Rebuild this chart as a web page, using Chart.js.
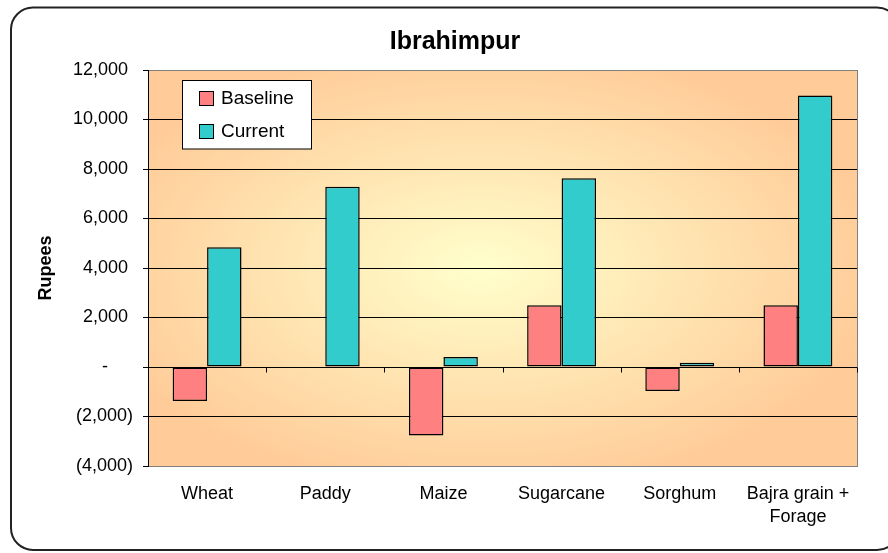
<!DOCTYPE html>
<html>
<head>
<meta charset="utf-8">
<script src="https://cdn.jsdelivr.net/npm/chart.js@4.4.1/dist/chart.umd.min.js"></script>
<style>
  html, body { margin: 0; padding: 0; background: #ffffff; }
  #wrap { position: relative; width: 888px; height: 553px; }
</style>
</head>
<body>
<div id="wrap"><canvas id="c" width="888" height="553"></canvas></div>
<script>
// ---- data ----
const chartTitle = 'Ibrahimpur';
const yAxisTitle = 'Rupees';
const categories = ['Wheat', 'Paddy', 'Maize', 'Sugarcane', 'Sorghum', ['Bajra grain +', 'Forage']];
const seriesNames = ['Baseline', 'Current'];
const baselineValues = [-1370, 0, -2770, 2490, -970, 2490];
const currentValues = [4840, 7280, 400, 7630, 170, 10970];
const yMin = -4000;
const yMax = 12000;
const yStep = 2000;

const FONT = '"Liberation Sans", Arial, sans-serif';

function fmtAccounting(v) {
  if (v === 0) return '-\u2007\u2007 ';
  const s = Math.abs(v).toLocaleString('en-US');
  return v < 0 ? '(' + s + ')' : s + ' ';
}

const decorPlugin = {
  id: 'decor',
  beforeDraw(chart) {
    const ctx = chart.ctx;
    const a = chart.chartArea;
    ctx.save();
    ctx.fillStyle = '#ffffff';
    ctx.fillRect(0, 0, chart.width, chart.height);
    // rounded outer frame
    ctx.strokeStyle = '#222222';
    ctx.lineWidth = 2;
    ctx.beginPath();
    ctx.roundRect(11, 7.5, 888, 542.5, 22);
    ctx.stroke();
    // plot area gradient (from centre)
    const cx = a.left + (a.right - a.left) * 0.47;
    const cy = a.top + (a.bottom - a.top) * 0.5;
    const rx = (a.right - a.left) * 0.56;
    const ry = (a.bottom - a.top) * 0.56;
    ctx.save();
    ctx.translate(cx, cy);
    ctx.scale(1, ry / rx);
    const g = ctx.createRadialGradient(0, 0, 0, 0, 0, rx);
    g.addColorStop(0, '#FFFFCC');
    g.addColorStop(1, '#FFCC99');
    ctx.fillStyle = g;
    ctx.fillRect(a.left - cx, (a.top - cy) * rx / ry, a.right - a.left, (a.bottom - a.top) * rx / ry);
    ctx.restore();
    // title
    ctx.fillStyle = '#000';
    ctx.font = 'bold 25px ' + FONT;
    ctx.textAlign = 'center';
    ctx.textBaseline = 'alphabetic';
    ctx.fillText(chartTitle, 455, 49);
    ctx.restore();
  },
  beforeDatasetsDraw(chart) {
    const ctx = chart.ctx;
    const a = chart.chartArea;
    const xs = chart.scales.x;
    const ys = chart.scales.y;
    ctx.save();
    ctx.strokeStyle = '#808080';
    ctx.lineWidth = 1;
    ctx.beginPath();
    ctx.moveTo(Math.round(a.right) + 0.5, a.top);
    ctx.lineTo(Math.round(a.right) + 0.5, a.bottom);
    ctx.stroke();
    // category tick marks on the zero line
    const y0 = Math.round(ys.getPixelForValue(0)) + 0.5;
    ctx.strokeStyle = '#000';
    ctx.beginPath();
    for (let i = 0; i < categories.length; i++) {
      const px = Math.round(xs.getPixelForValue(i + 0.5)) + 0.5;
      ctx.moveTo(px, y0);
      ctx.lineTo(px, y0 + 5);
    }
    ctx.stroke();
    ctx.restore();
  },
  afterDraw(chart) {
    const ctx = chart.ctx;
    ctx.save();
    ctx.fillStyle = '#ffffff';
    ctx.fillRect(182.5, 80.5, 129, 68.5);
    ctx.strokeStyle = '#000';
    ctx.lineWidth = 1;
    ctx.strokeRect(182.5, 80.5, 129, 68.5);
    ctx.font = '19px ' + FONT;
    ctx.textAlign = 'left';
    ctx.textBaseline = 'alphabetic';
    const rows = [91.5, 124.5];
    chart.data.datasets.forEach((ds, i) => {
      const y = rows[i];
      ctx.fillStyle = ds.backgroundColor;
      ctx.fillRect(199.5, y, 14, 14);
      ctx.strokeStyle = '#000';
      ctx.strokeRect(199.5, y, 14, 14);
      ctx.fillStyle = '#000';
      ctx.fillText(ds.label, 221, y + 12.5);
    });
    ctx.restore();
  }
};

new Chart(document.getElementById('c'), {
  type: 'bar',
  data: {
    labels: categories,
    datasets: [
      { label: seriesNames[0], data: baselineValues, backgroundColor: '#FF8080', borderColor: '#000', borderWidth: 1.5, borderSkipped: false },
      { label: seriesNames[1], data: currentValues, backgroundColor: '#33CCCC', borderColor: '#000', borderWidth: 1.5, borderSkipped: false }
    ]
  },
  options: {
    responsive: false,
    maintainAspectRatio: false,
    animation: false,
    devicePixelRatio: 1,
    layout: { padding: { left: 24, right: 31, top: 70, bottom: 0 } },
    plugins: {
      legend: { display: false },
      title: { display: false },
      tooltip: { enabled: false }
    },
    datasets: { bar: { categoryPercentage: 0.583, barPercentage: 1.0 } },
    scales: {
      x: {
        type: 'category',
        offset: true,
        grid: { display: false, drawTicks: false },
        border: { display: true, color: '#808080', width: 1 },
        ticks: {
          color: '#000',
          font: { family: FONT, size: 18, lineHeight: 1.3 },
          padding: 16,
          maxRotation: 0,
          autoSkip: false
        },
        afterFit(s) { s.height = 87; }
      },
      y: {
        min: yMin,
        max: yMax,
        grid: {
          color: (c) => (c.tick && (c.tick.value === yMax || c.tick.value === yMin)) ? '#808080' : '#000000',
          tickColor: '#000',
          lineWidth: 1,
          drawTicks: true,
          tickLength: 5
        },
        border: { display: true, color: '#000', width: 1 },
        ticks: {
          stepSize: yStep,
          color: '#000',
          font: { family: FONT, size: 18 },
          padding: 10,
          callback: (v) => fmtAccounting(v)
        },
        title: {
          display: true,
          text: yAxisTitle,
          color: '#000',
          font: { family: FONT, size: 18, weight: 'bold' },
          padding: { top: 11, bottom: 0 }
        },
        afterFit(s) { s.width = 124; }
      }
    }
  },
  plugins: [decorPlugin]
});
</script>
</body>
</html>
